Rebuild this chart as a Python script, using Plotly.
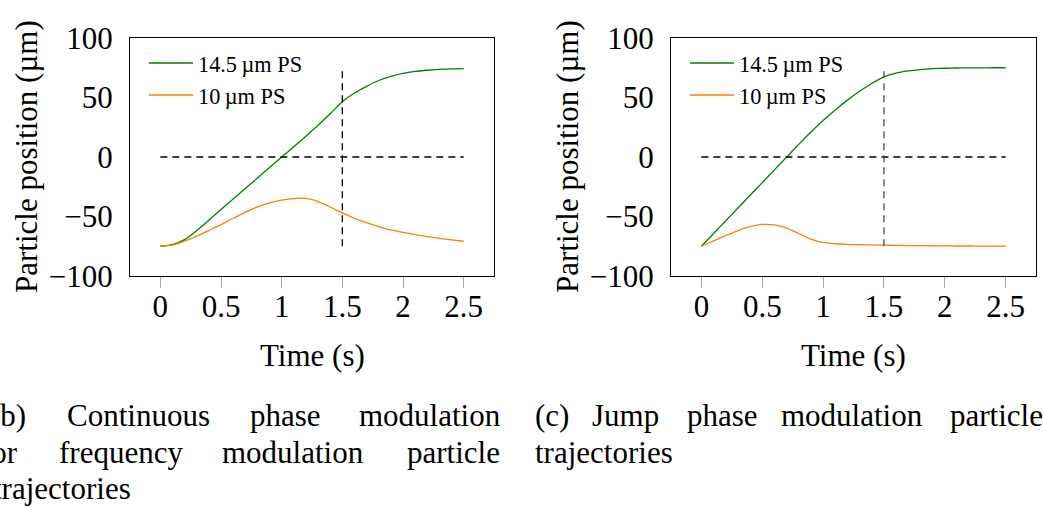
import plotly.graph_objects as go

# ---- data -------------------------------------------------------------
time_s = [0.0, 0.1, 0.2, 0.3, 0.4, 0.5, 0.6, 0.7, 0.8, 0.9, 1.0, 1.1, 1.2,
          1.3, 1.4, 1.5, 1.6, 1.7, 1.8, 1.9, 2.0, 2.1, 2.2, 2.3, 2.4, 2.5]

# (b) continuous phase modulation
cont_145 = [-75.0, -73.6, -69.4, -62.0, -53.1, -44.1, -35.3, -26.5, -17.7, -8.8,
            0.0, 8.6, 17.4, 26.6, 36.3, 46.5, 53.8, 59.4, 64.3, 67.8,
            70.3, 71.9, 72.9, 73.6, 74.0, 74.3]
cont_10 = [-75.0, -74.0, -70.7, -66.5, -61.7, -56.8, -51.5, -46.5, -42.0, -38.6,
           -36.3, -34.9, -34.8, -37.5, -42.0, -47.0, -51.5, -55.2, -58.5, -61.3,
           -63.3, -65.2, -66.9, -68.3, -69.6, -70.8]

# (c) jump phase modulation
jump_145 = [-75.0, -64.3, -53.6, -42.9, -32.2, -21.5, -10.8, -0.1, 10.6, 21.0,
            30.6, 39.6, 47.8, 55.2, 61.8, 67.3, 70.5, 72.3, 73.5, 74.2,
            74.6, 74.8, 74.9, 74.9, 75.0, 75.0]
jump_10 = [-75.0, -70.5, -66.0, -61.8, -58.6, -56.7, -57.0, -59.7, -64.3, -69.0,
           -71.8, -72.9, -73.4, -73.7, -73.9, -74.1, -74.2, -74.4, -74.5, -74.6,
           -74.7, -74.8, -74.8, -74.9, -74.9, -75.0]

series_names = ["14.5\u2009\u00b5m PS", "10\u2009\u00b5m PS"]

# reference markers: centre line and switch time
center_t = [0.0, 2.5]
center_y = [0, 0]
switch_t = [1.5, 1.5]
switch_y = [-75, 75]

x_ticks = [0, 0.5, 1, 1.5, 2, 2.5]
x_tick_text = ["0", "0.5", "1", "1.5", "2", "2.5"]
y_ticks = [-100, -50, 0, 50, 100]

# ---- styling ----------------------------------------------------------
W, H = 1043, 507
FONT = "Liberation Serif"
GREEN = "rgb(0,128,0)"
ORANGE = "rgb(255,128,0)"
TICK_GRAY = "#a8a8a8"


def px(x):
    return x / W


def py(y):
    return 1 - y / H


panels = [
    dict(x="x", y="y", dom=(130, 494), data=(cont_145, cont_10),
         legend="legend", vcol="black"),
    dict(x="x2", y="y2", dom=(671, 1036), data=(jump_145, jump_10),
         legend="legend2", vcol="#4a4a4a"),
]

fig = go.Figure()

for p in panels:
    for vals, name, col in zip(p["data"], series_names, [GREEN, ORANGE]):
        fig.add_trace(go.Scatter(
            x=time_s, y=vals, name=name, mode="lines",
            line=dict(color=col, width=1.3, shape="spline", smoothing=0.6),
            xaxis=p["x"], yaxis=p["y"], legend=p["legend"]))
    fig.add_trace(go.Scatter(
        x=center_t, y=center_y, mode="lines", showlegend=False,
        line=dict(color="black", width=1.4, dash="7px,5px"),
        xaxis=p["x"], yaxis=p["y"]))
    fig.add_trace(go.Scatter(
        x=switch_t, y=switch_y, mode="lines", showlegend=False,
        line=dict(color=p["vcol"], width=1.3, dash="7px,5px"),
        xaxis=p["x"], yaxis=p["y"]))

y_dom = [py(276), py(38)]
layout = dict(
    width=W, height=H,
    margin=dict(l=0, r=0, t=0, b=0, autoexpand=False),
    paper_bgcolor="white", plot_bgcolor="white",
    font=dict(family=FONT, size=31, color="black"),
    showlegend=True,
)

for i, p in enumerate(panels):
    xa = "xaxis" if i == 0 else "xaxis2"
    ya = "yaxis" if i == 0 else "yaxis2"
    yr = "yaxis3" if i == 0 else "yaxis4"
    layout[xa] = dict(
        domain=[px(p["dom"][0]), px(p["dom"][1])], anchor=p["y"],
        range=[-0.25, 2.75], tickvals=x_ticks, ticktext=x_tick_text,
        ticks="outside", ticklen=11, tickwidth=1, tickcolor=TICK_GRAY,
        showline=True, mirror=True, linecolor="black", linewidth=1.2,
        showgrid=False, zeroline=False, ticklabelstandoff=-8,
        tickfont=dict(family=FONT, size=31),
    )
    layout[ya] = dict(
        domain=y_dom, anchor=p["x"], range=[-100, 100], tickvals=y_ticks,
        ticks="", showline=True, mirror=True, linecolor="black", linewidth=1.2,
        showgrid=False, zeroline=False, ticklabelstandoff=10,
        tickfont=dict(family=FONT, size=31),
    )
    layout[yr] = dict(
        overlaying=p["y"], anchor=p["x"], side="right", range=[-100, 100],
        tickvals=[-50, 0, 50], ticks="inside", ticklen=11, tickwidth=1.2,
        tickcolor=TICK_GRAY, showticklabels=False, showline=False,
        showgrid=False, zeroline=False,
    )
    leg = "legend" if i == 0 else "legend2"
    layout[leg] = dict(
        x=px(p["dom"][0] + 14), y=py(42), xanchor="left", yanchor="top",
        bgcolor="rgba(0,0,0,0)", borderwidth=0, tracegroupgap=0,
        itemwidth=44,
        font=dict(family=FONT, size=22.3, color="black"),
    )

fig.update_layout(**layout)

# axis titles
for i, p in enumerate(panels):
    left = p["dom"][0]
    fig.add_annotation(text="Time (s)", xref="paper", yref="paper",
                       x=px((left + p["dom"][1]) / 2), y=py(355),
                       xanchor="center", yanchor="middle", showarrow=False,
                       font=dict(family=FONT, size=31))
    fig.add_annotation(text="Particle position (\u00b5m)", xref="paper", yref="paper",
                       x=px(left - 104), y=py(157), textangle=-90,
                       xanchor="center", yanchor="middle", showarrow=False,
                       font=dict(family=FONT, size=31))

# sub-figure captions, justified word by word
captions = [
    ("(b)", 28, 415, "right"), ("Continuous", 65, 415, "left"),
    ("phase", 248, 415, "left"), ("modulation", 357, 415, "left"),
    ("(c)", 533, 415, "left"), ("Jump", 590, 415, "left"),
    ("phase", 685, 415, "left"), ("modulation", 779, 415, "left"),
    ("particle", 948, 415, "left"),
    ("for", 20, 452, "right"), ("frequency", 57, 452, "left"),
    ("modulation", 220, 452, "left"), ("particle", 405, 452, "left"),
    ("trajectories", 533, 452, "left"),
    ("trajectories", 133, 488, "right"),
]
for word, xw, yw, anchor in captions:
    fig.add_annotation(text=word, xref="paper", yref="paper",
                       x=px(xw), y=py(yw), xanchor=anchor, yanchor="middle",
                       showarrow=False, font=dict(family=FONT, size=31))

fig.write_html("out.html")
